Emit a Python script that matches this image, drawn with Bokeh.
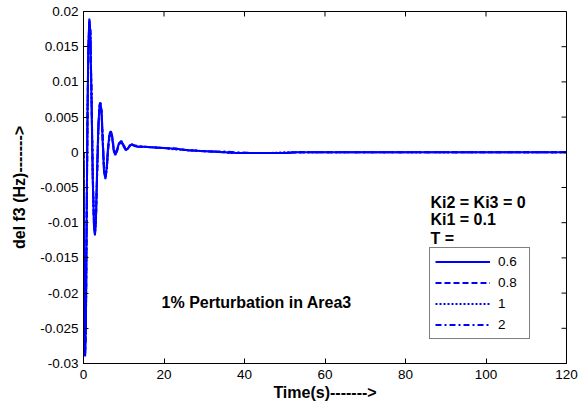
import math
from bokeh.plotting import figure
from bokeh.models import Range1d, FixedTicker, Legend, LegendItem, Label
from bokeh.embed import file_html
from bokeh.resources import INLINE

# ---- data ----
time_s = [0, 0.2, 0.4, 0.6, 0.8, 1.0, 1.2, 1.45, 1.7, 2.0, 2.3, 2.6, 2.85, 3.1, 3.4,
          3.7, 4.0, 4.2, 4.5, 4.8, 5.1, 5.45, 5.8, 6.1, 6.5, 6.8, 7.1, 7.5, 7.9, 8.3,
          8.8, 9.4, 9.9, 10.5, 11.0, 11.5, 12.0, 12.6, 13.5, 15, 17, 20, 23, 26, 29,
          32, 35, 38, 42, 46, 50, 53, 56, 60, 70, 80, 90, 100, 110, 120]

df3_T06 = [0, -0.018, -0.029, -0.024, -0.008, 0.006, 0.015, 0.019, 0.017, 0.007,
           -0.004, -0.0105, -0.0118, -0.009, -0.002, 0.004, 0.0068, 0.0071, 0.0055, 0.001,
           -0.0028, -0.0038, -0.002, 0.0008, 0.0027, 0.0030, 0.0022, 0.0002, -0.0004, 0.0003,
           0.0013, 0.0016, 0.0009, 0.0003, 0.0005, 0.0010, 0.0011, 0.0009, 0.0008, 0.0008,
           0.0007, 0.0006, 0.0005, 0.0003, 0.0002, 0.0001, 0.0, -0.0001, -0.0001, -0.0001,
           -0.0001, 0.0, 0.0, 0.0, 0, 0, 0, 0, 0, 0]

df3_T08 = [0, -0.0178, -0.0289, -0.0242, -0.0085, 0.0055, 0.0146, 0.0188, 0.0171, 0.0074,
           -0.0036, -0.0102, -0.0117, -0.0092, -0.0024, 0.0037, 0.0066, 0.0070, 0.0056, 0.0013,
           -0.0025, -0.0037, -0.0021, 0.0006, 0.0026, 0.0030, 0.0023, 0.0004, -0.0003, 0.0002,
           0.0012, 0.0016, 0.0010, 0.0004, 0.0005, 0.0009, 0.0011, 0.0010, 0.0008, 0.0008,
           0.0007, 0.0006, 0.0005, 0.0003, 0.0002, 0.0001, 0.0, -0.0001, -0.0001, -0.0001,
           -0.0001, 0.0, 0.0, 0.0, 0, 0, 0, 0, 0, 0]

df3_T1 = [0, -0.0176, -0.0288, -0.0244, -0.0088, 0.0052, 0.0143, 0.0186, 0.0172, 0.0077,
          -0.0033, -0.0100, -0.0116, -0.0094, -0.0026, 0.0035, 0.0065, 0.0070, 0.0057, 0.0015,
          -0.0023, -0.0036, -0.0022, 0.0005, 0.0025, 0.0029, 0.0024, 0.0005, -0.0003, 0.0002,
          0.0012, 0.0015, 0.0010, 0.0004, 0.0005, 0.0009, 0.0011, 0.0010, 0.0008, 0.0008,
          0.0007, 0.0006, 0.0004, 0.0003, 0.0002, 0.0001, 0.0, -0.0001, -0.0001, -0.0001,
          0.0, 0.0, 0.0, 0.0, 0, 0, 0, 0, 0, 0]

df3_T2 = [0, -0.0172, -0.0285, -0.0248, -0.0095, 0.0045, 0.0137, 0.0181, 0.0173, 0.0083,
          -0.0027, -0.0096, -0.0114, -0.0097, -0.0031, 0.0031, 0.0063, 0.0069, 0.0059, 0.0019,
          -0.0020, -0.0035, -0.0024, 0.0002, 0.0023, 0.0029, 0.0025, 0.0007, -0.0002, 0.0001,
          0.0011, 0.0015, 0.0011, 0.0005, 0.0005, 0.0009, 0.0011, 0.0010, 0.0009, 0.0008,
          0.0007, 0.0006, 0.0005, 0.0003, 0.0002, 0.0001, 0.0001, 0.0, -0.0001, -0.0001,
          -0.0001, 0.0, 0.0, 0.0, 0, 0, 0, 0, 0, 0]

series_labels = ["0.6", "0.8", "1", "2"]
series_values = [df3_T06, df3_T08, df3_T1, df3_T2]

xticks = [0, 20, 40, 60, 80, 100, 120]
yticks = [-0.03, -0.025, -0.02, -0.015, -0.01, -0.005, 0, 0.005, 0.01, 0.015, 0.02]
ytick_labels = ["-0.03", "-0.025", "-0.02", "-0.015", "-0.01", "-0.005", "0",
                "0.005", "0.01", "0.015", "0.02"]

# ---- styles ----
FONT = "Liberation Sans"
BLUE = "#0000FF"
dashes = ["solid", "6 3", "2 2", "6 3 2 3"]
X0, X1, Y0, Y1 = 0, 120, -0.03, 0.02

p = figure(frame_width=483, frame_height=352,
           min_border_left=83, min_border_right=19, min_border_top=11, min_border_bottom=39,
           x_range=Range1d(X0, X1), y_range=Range1d(Y0, Y1),
           output_backend="svg", toolbar_location=None, tools="")
p.background_fill_color = "white"
p.border_fill_color = "white"
p.outline_line_color = "black"
p.outline_line_width = 1
p.xgrid.visible = False
p.ygrid.visible = False

renderers = []
for vals, dash in zip(series_values, dashes):
    r = p.line(time_s, vals, line_color=BLUE, line_width=2, line_dash=dash)
    renderers.append(r)

xa = p.xaxis[0]
ya = p.yaxis[0]
for ax, ticks in ((xa, xticks), (ya, yticks)):
    ax.ticker = FixedTicker(ticks=ticks)
    ax.minor_tick_line_color = None
    ax.major_tick_in = 5
    ax.major_tick_out = 0
    ax.axis_line_color = "black"
    ax.major_tick_line_color = "black"
    ax.major_label_text_font = FONT
    ax.major_label_text_font_size = "13.5px"
    ax.major_label_text_color = "black"
    ax.axis_label_text_font = FONT
    ax.axis_label_text_font_style = "bold"
    ax.axis_label_text_font_size = "16px"
    ax.axis_label_text_color = "black"
xa.major_label_standoff = 6
ya.major_label_standoff = 5
ya.major_label_overrides = {t: s for t, s in zip(yticks, ytick_labels)}
xa.axis_label = "Time(s)------->"
ya.axis_label = "del f3 (Hz)------->"
xa.axis_label_standoff = 2
ya.axis_label_standoff = 9

# inward ticks on the top and right edges of the box (MATLAB "box on")
p.ray(x=xticks, y=[Y1] * len(xticks), length=5, length_units="screen",
      angle=-math.pi / 2, line_color="black", line_width=1)
p.ray(x=[X1] * len(yticks), y=yticks, length=5, length_units="screen",
      angle=math.pi, line_color="black", line_width=1)

legend = Legend(items=[LegendItem(label=lab, renderers=[r]) for lab, r in zip(series_labels, renderers)],
                location=(346, 24), margin=0, padding=5, spacing=4,
                glyph_width=55, glyph_height=17, label_height=17, label_width=26,
                label_standoff=8,
                label_text_font=FONT, label_text_font_size="13.5px", label_text_color="black",
                border_line_color="black", border_line_width=1,
                background_fill_color="white", background_fill_alpha=1)
p.add_layout(legend)

notes = [("Ki2 = Ki3 = 0", 86.2, -0.0071), ("Ki1 = 0.1", 86.2, -0.0096), ("T =", 86.2, -0.01224),
         ("1% Perturbation in Area3", 19.4, -0.0213)]
for txt, x, y in notes:
    p.add_layout(Label(x=x, y=y, text=txt, text_font=FONT, text_font_style="bold",
                       text_font_size="16px", text_color="black",
                       text_align="left", text_baseline="middle"))

open("out.html", "w").write(file_html(p, INLINE))
